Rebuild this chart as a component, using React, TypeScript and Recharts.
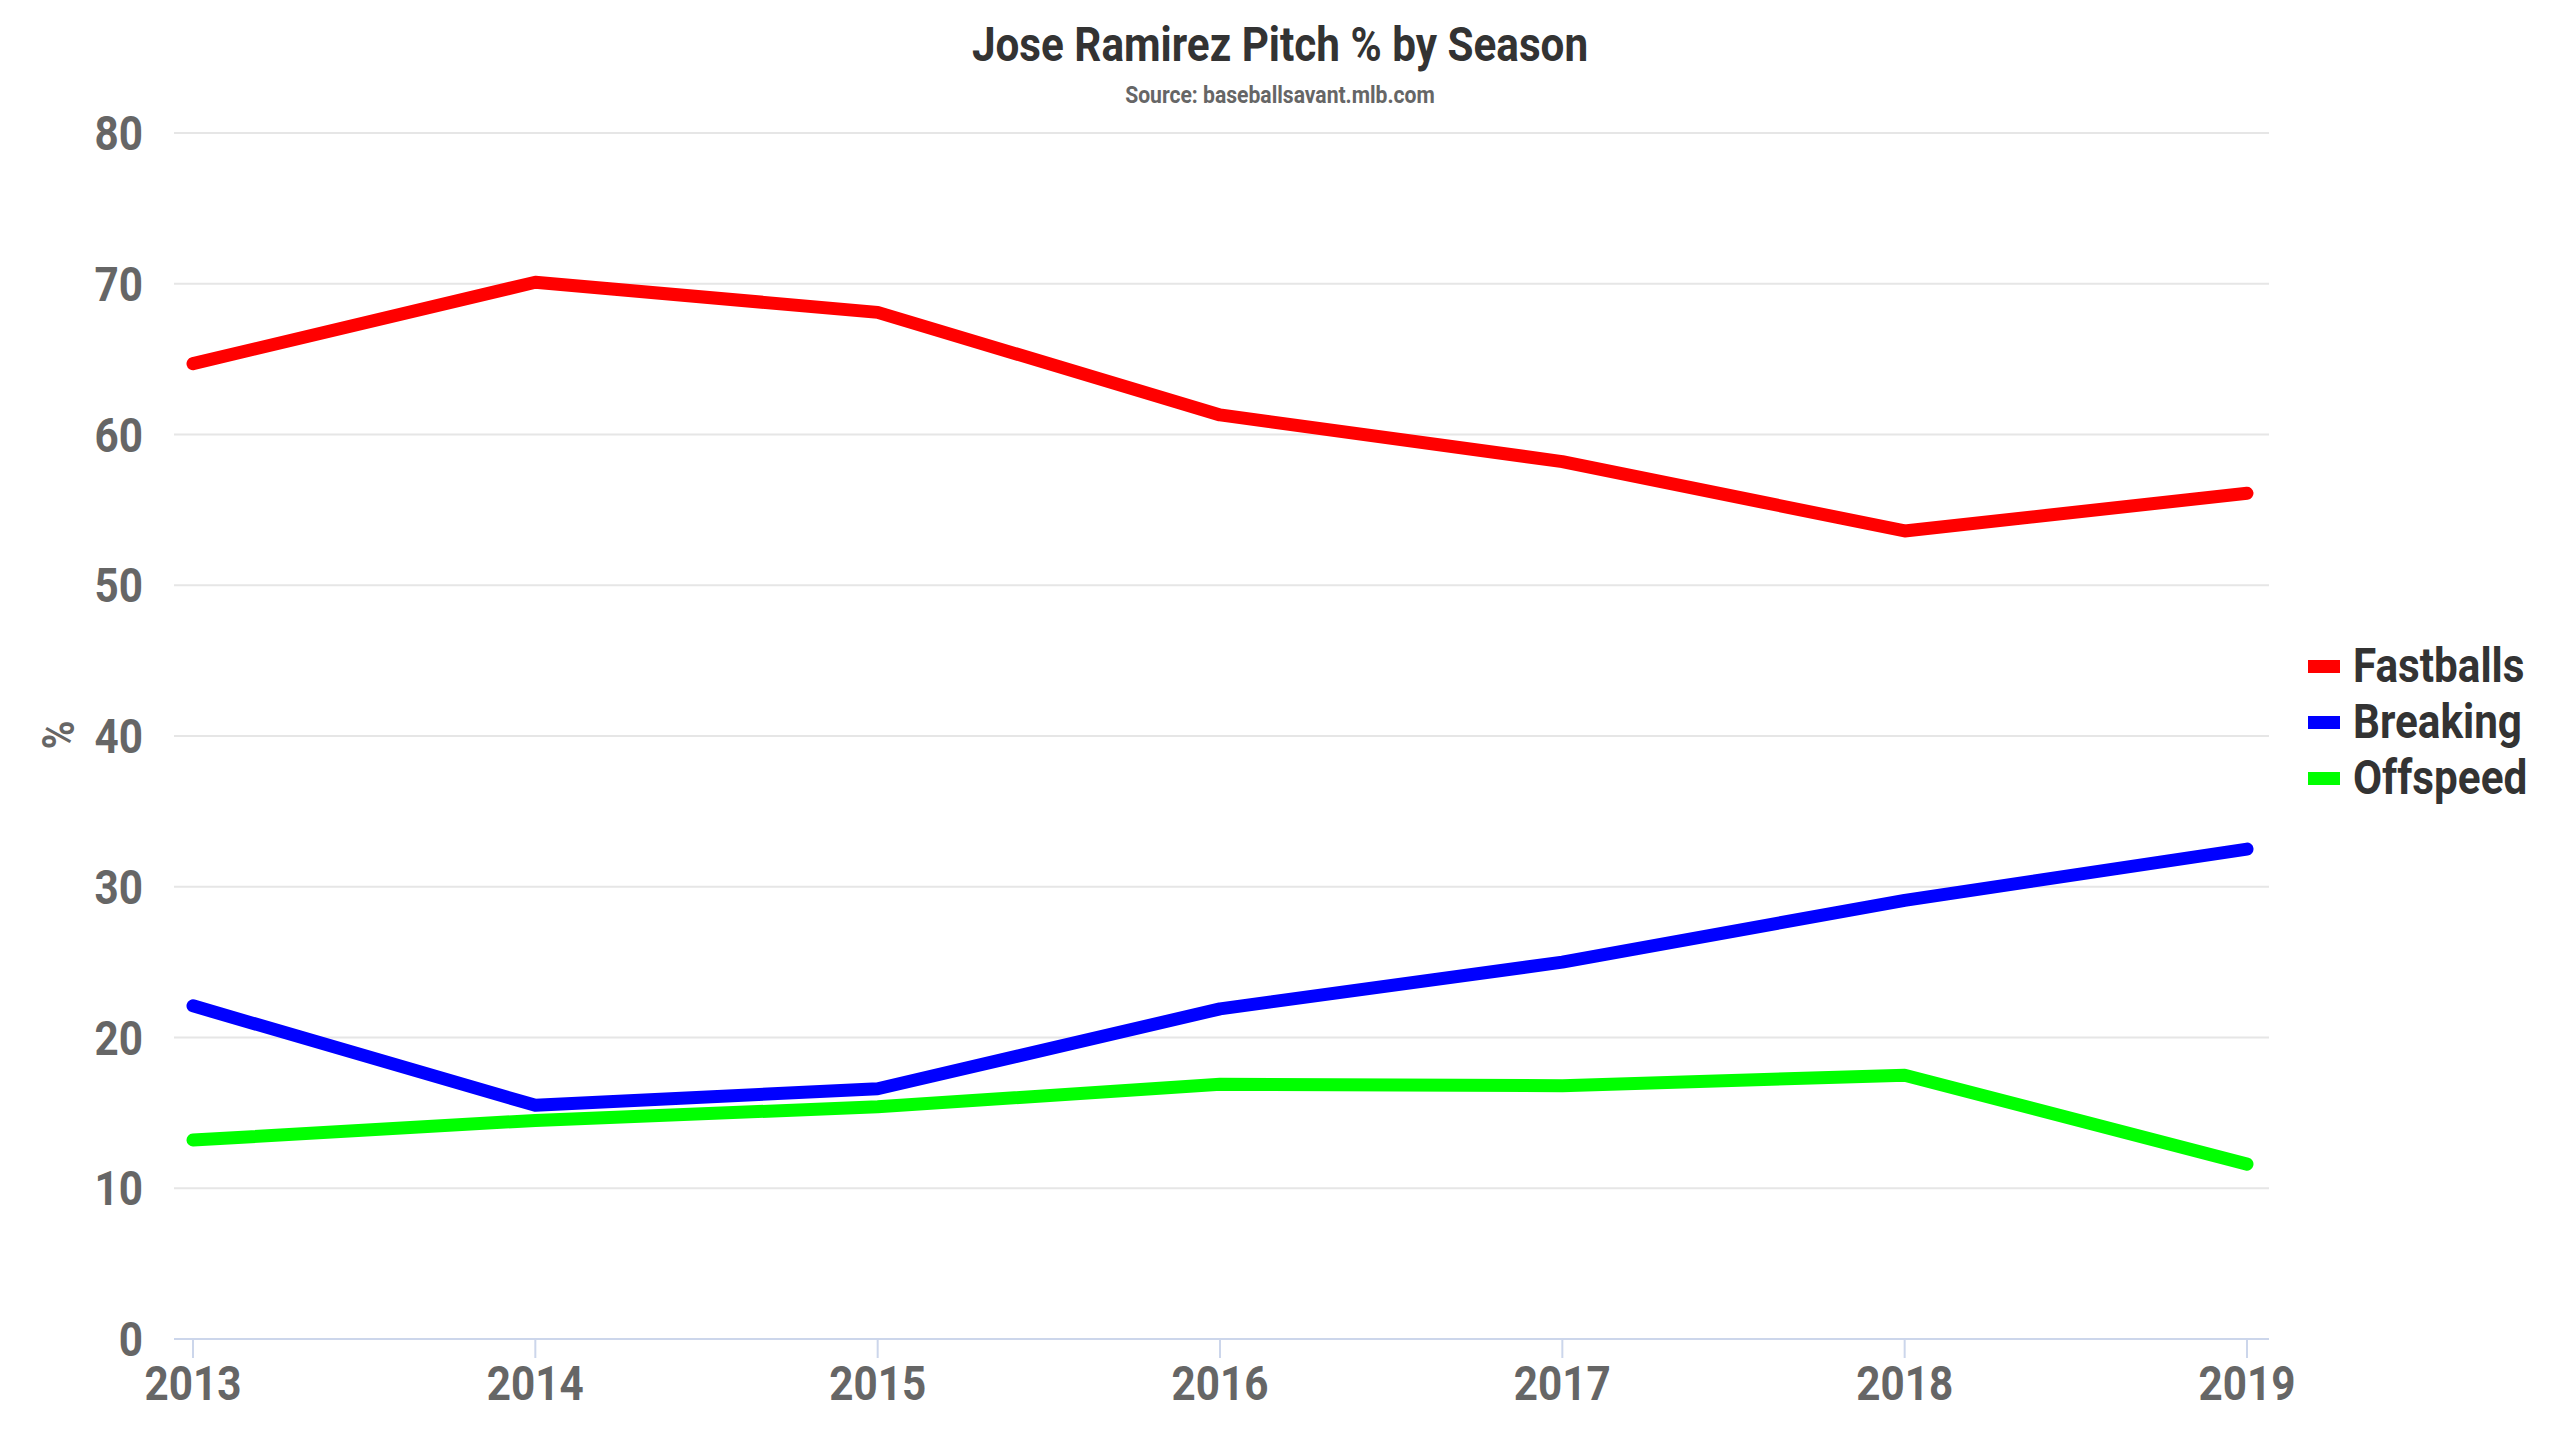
import { CartesianGrid, Legend, Line, LineChart, XAxis, YAxis } from 'recharts';

const YEARS = [2013, 2014, 2015, 2016, 2017, 2018, 2019];
const FASTBALLS = [64.7, 70.1, 68.1, 61.3, 58.2, 53.6, 56.1];
const BREAKING = [22.1, 15.5, 16.6, 21.9, 25.0, 29.1, 32.5];
const OFFSPEED = [13.2, 14.5, 15.4, 16.9, 16.8, 17.5, 11.6];
const Y_TICKS = [0, 10, 20, 30, 40, 50, 60, 70, 80];

const SERIES = [
  { key: 'Fastballs', color: '#ff0000' },
  { key: 'Breaking', color: '#0000ff' },
  { key: 'Offspeed', color: '#00ff00' },
];

// no condensed face installed, so Roboto gets squeezed horizontally
const FONT = 'Roboto, sans-serif';
const SQUEEZE = 0.88;

const data = YEARS.map((y, i) => ({
  year: String(y),
  Fastballs: FASTBALLS[i],
  Breaking: BREAKING[i],
  Offspeed: OFFSPEED[i],
}));

function CondText({ x, y, size, fill, anchor = 'middle', dy, rotate = 0, children }: any) {
  return (
    <g transform={`translate(${x},${y}) rotate(${rotate}) scale(${SQUEEZE},1)`}>
      <text
        x={0}
        y={0}
        dy={dy}
        textAnchor={anchor}
        fontFamily={FONT}
        fontWeight={700}
        fontSize={size}
        fill={fill}
      >
        {children}
      </text>
    </g>
  );
}

function XTick({ x, y, payload }: any) {
  return <CondText x={x} y={y} size={48} fill="#666" dy="0.71em">{payload.value}</CondText>;
}

function YTick({ x, y, payload }: any) {
  return <CondText x={x} y={y} size={48} fill="#666" anchor="end" dy="0.355em">{payload.value}</CondText>;
}

function LegendBox() {
  return (
    <div style={{ fontFamily: FONT, fontWeight: 700, fontSize: 48, color: '#333' }}>
      {SERIES.map(s => (
        <div key={s.key} style={{ display: 'flex', alignItems: 'center', height: 56 }}>
          <span style={{ display: 'inline-block', width: 32, height: 13, background: s.color, marginRight: 13 }} />
          <span
            style={{
              lineHeight: '56px',
              display: 'inline-block',
              transform: `scaleX(${SQUEEZE})`,
              transformOrigin: 'left center',
            }}
          >
            {s.key}
          </span>
        </div>
      ))}
    </div>
  );
}

export default function App() {
  return (
    <div style={{ position: 'absolute', left: 0, top: 0, width: 2560, height: 1440, background: '#fff' }}>
      <LineChart
        width={2560}
        height={1440}
        data={data}
        margin={{ top: 133, right: 41, bottom: 21, left: 54 }}
      >
        <CartesianGrid vertical={false} stroke="#e6e6e6" strokeWidth={2} />
        <XAxis
          dataKey="year"
          padding={{ left: 19, right: 22 }}
          height={80}
          stroke="#ccd6eb"
          strokeWidth={2}
          tickSize={19}
          tickMargin={8}
          tick={<XTick />}
        />
        <YAxis
          domain={[0, 80]}
          ticks={Y_TICKS}
          width={120}
          axisLine={false}
          tickLine={false}
          tickSize={0}
          tickMargin={31}
          tick={<YTick />}
        />
        <Legend
          layout="vertical"
          align="right"
          verticalAlign="middle"
          content={() => <LegendBox />}
          wrapperStyle={{ left: 2308, top: 638, width: 250 }}
        />
        {SERIES.map(s => (
          <Line
            key={s.key}
            type="linear"
            dataKey={s.key}
            stroke={s.color}
            strokeWidth={13}
            strokeLinecap="round"
            strokeLinejoin="round"
            dot={false}
            activeDot={false}
            isAnimationActive={false}
          />
        ))}
      </LineChart>
      <svg
        width={2560}
        height={1440}
        style={{ position: 'absolute', left: 0, top: 0, pointerEvents: 'none' }}
      >
        <CondText x={1280} y={61} size={48} fill="#333">Jose Ramirez Pitch % by Season</CondText>
        <CondText x={1280} y={103} size={24} fill="#666">Source: baseballsavant.mlb.com</CondText>
        <CondText x={58} y={735} size={44} fill="#666" dy="0.355em" rotate={-90}>%</CondText>
      </svg>
    </div>
  );
}
